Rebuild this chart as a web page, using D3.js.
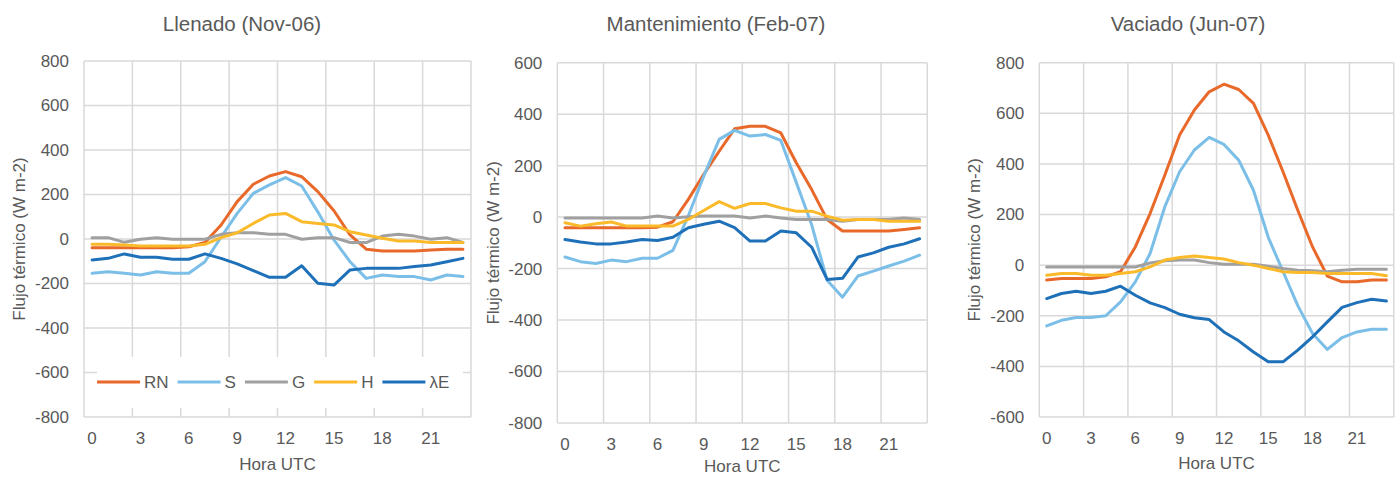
<!DOCTYPE html>
<html>
<head>
<meta charset="utf-8">
<script src="https://cdn.jsdelivr.net/npm/d3@7"></script>
<style>
  body { margin: 0; background: #fff; }
  svg text { font-family: "Liberation Sans", Arial, sans-serif; fill: #595959; }
</style>
</head>
<body>
<script>
var hours = d3.range(0, 24);
var hourTicks = [0, 3, 6, 9, 12, 15, 18, 21];
var seriesNames = ["RN", "S", "G", "H", "\u03bbE"];

// Llenado (Nov-06)
var llenadoRN = [-39,-39,-39,-39,-39,-39,-35,-16,63,168,246,283,303,280,213,127,18,-46,-54,-54,-54,-49,-46,-46];
var llenadoS = [-154,-147,-154,-162,-147,-154,-154,-102,8,115,205,243,276,238,122,-4,-102,-177,-162,-169,-169,-184,-162,-169];
var llenadoG = [6,6,-15,-1,6,-1,-1,-1,21,28,28,21,21,-1,6,6,-16,-16,13,21,13,-1,6,-16];
var llenadoH = [-24,-24,-27,-31,-31,-31,-31,-24,6,28,70,108,115,78,70,63,33,18,3,-9,-9,-16,-16,-16];
var llenadoLE = [-94,-87,-67,-82,-82,-91,-91,-67,-87,-112,-142,-172,-172,-120,-199,-207,-139,-132,-132,-132,-124,-117,-102,-87];

// Mantenimiento (Feb-07)
var mantRN = [-41,-41,-41,-41,-41,-41,-39,-18,69,166,256,343,353,353,327,211,107,-9,-54,-54,-54,-54,-48,-41];
var mantS = [-155,-173,-180,-167,-173,-160,-160,-129,5,159,302,337,315,321,298,135,-30,-245,-311,-229,-210,-190,-171,-148];
var mantG = [-3,-3,-3,-3,-3,-3,4,-3,1,4,4,4,-3,4,-3,-9,-9,-9,-16,-9,-9,-9,-3,-9];
var mantH = [-22,-35,-26,-19,-35,-35,-35,-35,-9,26,60,34,53,53,36,23,23,4,-12,-9,-9,-16,-16,-16];
var mantLE = [-87,-97,-104,-104,-97,-87,-91,-78,-41,-28,-16,-41,-93,-93,-54,-61,-117,-242,-238,-155,-139,-117,-104,-84];

// Vaciado (Jun-07)
var vaciadoRN = [-59,-53,-53,-53,-46,-26,72,204,356,514,613,685,715,694,639,514,369,217,72,-43,-66,-66,-59,-59];
var vaciadoS = [-240,-218,-207,-207,-200,-145,-66,46,231,369,455,505,477,415,296,110,-25,-160,-270,-333,-286,-264,-253,-253];
var vaciadoG = [-7,-7,-7,-7,-7,-7,-7,9,17,20,20,10,4,4,4,-4,-13,-20,-22,-26,-20,-16,-16,-16];
var vaciadoH = [-40,-33,-33,-40,-40,-33,-26,-7,20,30,36,30,24,10,0,-13,-26,-29,-29,-33,-33,-33,-33,-42];
var vaciadoLE = [-132,-112,-103,-112,-103,-83,-119,-149,-168,-194,-208,-215,-264,-299,-343,-382,-382,-336,-283,-224,-167,-148,-135,-142];

var colors = ["#E8692A", "#7BBFE8", "#A0A0A0", "#FBBA2A", "#1E70B8"];

var panels = [
  {title: "Llenado (Nov-06)", yDomain: [-800, 800], series: [llenadoRN, llenadoS, llenadoG, llenadoH, llenadoLE],
   left: 84, right: 471, top: 61, bottom: 417, titleX: 242, yTitleX: 19, xTitleY: 470, legend: true},
  {title: "Mantenimiento (Feb-07)", yDomain: [-800, 600], series: [mantRN, mantS, mantG, mantH, mantLE],
   left: 557.3, right: 927.3, top: 62.7, bottom: 423, titleX: 716, yTitleX: 492.5, xTitleY: 472, legend: false},
  {title: "Vaciado (Jun-07)", yDomain: [-600, 800], series: [vaciadoRN, vaciadoS, vaciadoG, vaciadoH, vaciadoLE],
   left: 1039.3, right: 1393.8, top: 62.7, bottom: 417, titleX: 1188, yTitleX: 974, xTitleY: 469, legend: false}
];

var svg = d3.select("body").append("svg").attr("width", 1398).attr("height", 477);

function drawPanel(p) {
  var g = svg.append("g");
  var x = d3.scaleBand().domain(hours).range([p.left, p.right]).padding(0);
  var y = d3.scaleLinear().domain(p.yDomain).range([p.bottom, p.top]);
  var bw = x.bandwidth();
  var yTicks = d3.range(p.yDomain[0], p.yDomain[1] + 1, 200);

  // gridlines
  g.selectAll("line.hgrid").data(yTicks).enter().append("line")
    .attr("x1", p.left).attr("x2", p.right)
    .attr("y1", function(d){ return y(d); }).attr("y2", function(d){ return y(d); })
    .attr("stroke", "#d9d9d9").attr("stroke-width", 1.5);
  var vBounds = hourTicks.map(function(h){ return x(h); }).concat([p.right]);
  g.selectAll("line.vgrid").data(vBounds).enter().append("line")
    .attr("x1", function(d){ return d; }).attr("x2", function(d){ return d; })
    .attr("y1", p.top).attr("y2", p.bottom)
    .attr("stroke", "#d9d9d9").attr("stroke-width", 1.5);

  // tick labels
  g.selectAll("text.ytick").data(yTicks).enter().append("text")
    .attr("x", p.left - 15).attr("y", function(d){ return y(d); })
    .attr("dy", "0.35em").attr("text-anchor", "end")
    .style("font-size", "17px")
    .text(function(d){ return d; });
  g.selectAll("text.xtick").data(hourTicks).enter().append("text")
    .attr("x", function(d){ return x(d) + bw / 2; }).attr("y", p.bottom + 27)
    .attr("text-anchor", "middle")
    .style("font-size", "17px")
    .text(function(d){ return d; });

  // titles
  g.append("text").attr("x", p.titleX).attr("y", 31).attr("text-anchor", "middle")
    .style("font-size", "20.5px").text(p.title);
  g.append("text").attr("x", (p.left + p.right) / 2).attr("y", p.xTitleY).attr("text-anchor", "middle")
    .style("font-size", "17px").text("Hora UTC");
  g.append("text")
    .attr("transform", "translate(" + (p.yTitleX + 6) + "," + ((p.top + p.bottom) / 2) + ") rotate(-90)")
    .attr("text-anchor", "middle").style("font-size", "17px")
    .text("Flujo t\u00e9rmico (W m-2)");

  // legend sits over the plot with a white box
  if (p.legend) {
    var lg = g.append("g");
    lg.append("rect").attr("x", 97).attr("y", 357).attr("width", 366).attr("height", 51).attr("fill", "#fff");
    var lx = 97;
    seriesNames.forEach(function(name, i){
      lg.append("line").attr("x1", lx).attr("x2", lx + 43).attr("y1", 382).attr("y2", 382)
        .attr("stroke", colors[i]).attr("stroke-width", 3);
      var t = lg.append("text").attr("x", lx + 47).attr("y", 382).attr("dy", "0.35em")
        .style("font-size", "17px").text(name);
      lx = lx + 47 + t.node().getComputedTextLength() + 9;
    });
  }

  // series lines
  var line = d3.line()
    .x(function(d, i){ return x(hours[i]) + bw / 2; })
    .y(function(d){ return y(d); });
  p.series.forEach(function(vals, i){
    g.append("path").datum(vals)
      .attr("d", line)
      .attr("fill", "none")
      .attr("stroke", colors[i])
      .attr("stroke-width", 3)
      .attr("stroke-linejoin", "round")
      .attr("stroke-linecap", "round");
  });
}

panels.forEach(drawPanel);
</script>
</body>
</html>
